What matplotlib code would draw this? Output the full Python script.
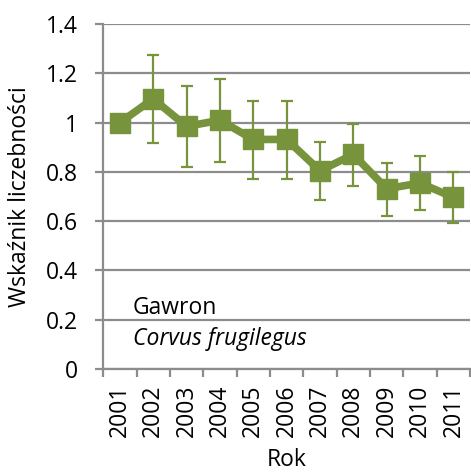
import numpy as np
import matplotlib.pyplot as plt

plt.rcParams['font.family'] = ['Open Sans', 'DejaVu Sans']

lata = ['2001', '2002', '2003', '2004', '2005', '2006', '2007', '2008', '2009', '2010', '2011']
wskaznik = [1.0, 1.097, 0.985, 1.01, 0.932, 0.932, 0.805, 0.871, 0.732, 0.755, 0.697]
gorna = [1.0, 1.276, 1.15, 1.178, 1.09, 1.09, 0.92, 0.995, 0.837, 0.863, 0.80]
dolna = [1.0, 0.916, 0.82, 0.84, 0.772, 0.772, 0.687, 0.744, 0.622, 0.644, 0.594]

zielony = '#77933C'
szary = '#8C8C8C'

fig = plt.figure(figsize=(4.71, 4.74), dpi=100)
ax = fig.add_axes([0.219, 0.2215, 0.779, 0.7275])

x = np.arange(len(lata))
w = np.array(wskaznik)
err = [w - np.array(dolna), np.array(gorna) - w]
ax.errorbar(x, w, yerr=err, color=zielony, lw=5.5, marker='s', ms=14.5,
            ecolor=zielony, elinewidth=1.6, capsize=4.6, capthick=1.6, zorder=3)

ax.set_ylim(0, 1.4)
ax.set_xlim(-0.5, len(lata) - 0.5)
ax.set_yticks(np.arange(0, 1.41, 0.2))
ax.set_yticklabels(['0', '0.2', '0.4', '0.6', '0.8', '1', '1.2', '1.4'], fontsize=16.5)
ax.yaxis.grid(True, color=szary, lw=1.6)
ax.set_axisbelow(True)

# kreski osi X miedzy kategoriami, etykiety w srodku
ax.set_xticks(np.arange(-0.5, len(lata)), minor=False)
ax.set_xticklabels([])
ax.set_xticks(x, minor=True)
ax.set_xticklabels(lata, minor=True, rotation=90, fontsize=16.5)
ax.tick_params(axis='x', which='major', length=6, width=1.6, color=szary)
ax.tick_params(axis='x', which='minor', length=0, pad=11)
ax.tick_params(axis='y', length=6, width=1.6, color=szary, pad=12)

for s in ['top', 'right']:
    ax.spines[s].set_visible(False)
for s in ['left', 'bottom']:
    ax.spines[s].set_color(szary)
    ax.spines[s].set_linewidth(1.6)

ax.set_xlabel('Rok', fontsize=16.5, labelpad=8)
ax.set_ylabel('Wskaźnik liczebności', fontsize=16.5, labelpad=10)

ax.text(0.08, 0.178, 'Gawron', transform=ax.transAxes, fontsize=16.5, va='center')
ax.text(0.08, 0.088, 'Corvus frugilegus', transform=ax.transAxes, fontsize=16.5,
        style='italic', va='center')

fig.savefig('out.png', dpi=100)
